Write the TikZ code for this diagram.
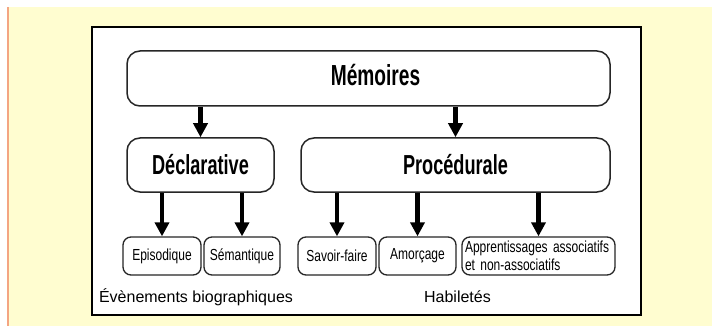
\documentclass[tikz,border=0pt]{standalone}
\usepackage{fontspec}
\setmainfont{Liberation Sans}
\newfontfamily\titrefont[FakeStretch=0.66]{Liberation Sans}
\newfontfamily\petitfont[FakeStretch=0.75]{Liberation Sans}
\usetikzlibrary{arrows.meta}
\definecolor{fondjaune}{HTML}{FFFDD0}
\definecolor{bordorange}{HTML}{F4A582}
\begin{document}
\begin{tikzpicture}[x=1pt,y=-1pt,
  grandbox/.style={draw=black!85,line width=1.5pt,rounded corners=13pt,fill=white,inner sep=0pt,font=\titrefont\bfseries\fontsize{27.5}{30}\selectfont},
  petitbox/.style={draw=black!85,line width=1.3pt,rounded corners=8pt,fill=white,inner sep=0pt,minimum height=38pt,font=\petitfont\fontsize{16}{18}\selectfont},
  fleche/.style={line width=4.3pt,-{Triangle[width=14pt,length=14pt]}},
  legende/.style={font=\fontsize{16}{18}\selectfont}]
\useasboundingbox (0,0) rectangle (712,326);
\fill[fondjaune] (7,7) rectangle (712,326);
\fill[bordorange] (7,7) rectangle (9,326);
\draw[line width=2pt,fill=white] (92,27) rectangle (641,315);
% niveaux
\node[grandbox,minimum width=483pt,minimum height=55pt,font=\titrefont\bfseries\fontsize{29}{32}\selectfont,text depth=8pt] (mem) at (368.5,78.5) {\hspace*{14pt}Mémoires};
\node[grandbox,minimum width=147pt,minimum height=54pt] (decl) at (200.5,165) {Déclarative};
\node[grandbox,minimum width=309pt,minimum height=54pt] (proc) at (455.5,165) {Procédurale};
\node[petitbox,minimum width=78pt] (epi) at (162,256) {Episodique};
\node[petitbox,minimum width=76pt] (sem) at (242,256) {Sémantique};
\node[petitbox,minimum width=78pt] (sav) at (337,256) {Savoir-faire};
\node[petitbox,minimum width=77pt] (amo) at (417.5,256) {Amorçage};
\node[petitbox,text width=147pt,inner xsep=3pt,align=left] (app) at (538.5,256) {Apprentissages associatifs\\et non-associatifs};
% fleches
\draw[fleche] (decl.north |- mem.south) -- (decl.north);
\draw[fleche] (proc.north |- mem.south) -- (proc.north);
\draw[fleche] (epi.north |- decl.south) -- (epi.north);
\draw[fleche] (sem.north |- decl.south) -- (sem.north);
\draw[fleche] (sav.north |- proc.south) -- (sav.north);
\draw[fleche] (amo.north |- proc.south) -- (amo.north);
\draw[fleche] (app.north |- proc.south) -- (app.north);
% legendes
\node[legende] (bio) at (196,297) {Évènements biographiques};
\node[legende] (hab) at (457.5,297) {Habiletés};
\end{tikzpicture}
\end{document}
